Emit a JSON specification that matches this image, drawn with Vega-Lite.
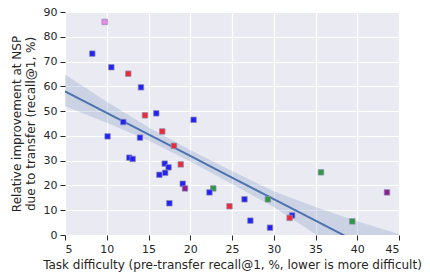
{
  "$schema": "https://vega.github.io/schema/vega-lite/v6.json",
  "width": 334,
  "height": 223,
  "autosize": {"type": "none"},
  "padding": {"left": 65, "top": 12, "right": 31, "bottom": 45},
  "background": "white",
  "config": {
    "view": {"fill": "#EAEAF2", "stroke": null},
    "font": "DejaVu Sans",
    "axis": {
      "domain": false,
      "grid": true,
      "gridColor": "white",
      "gridWidth": 1.2,
      "tickColor": "#262626",
      "tickSize": 5,
      "tickWidth": 1,
      "labelFont": "DejaVu Sans",
      "labelFontSize": 11,
      "labelColor": "#262626",
      "labelPadding": 3,
      "labelOverlap": false,
      "titleFont": "DejaVu Sans",
      "titleFontSize": 12,
      "titleFontWeight": "normal",
      "titleColor": "#262626"
    }
  },
  "datasets": {
    "points": [
      {"difficulty": 9.75, "improvement": 86, "group": "pink"},
      {"difficulty": 8.27, "improvement": 73.2, "group": "blue"},
      {"difficulty": 10.55, "improvement": 67.7, "group": "blue"},
      {"difficulty": 12.58, "improvement": 65.1, "group": "red"},
      {"difficulty": 14.1, "improvement": 59.6, "group": "blue"},
      {"difficulty": 14.58, "improvement": 48.3, "group": "red"},
      {"difficulty": 15.93, "improvement": 49.1, "group": "blue"},
      {"difficulty": 11.98, "improvement": 45.6, "group": "blue"},
      {"difficulty": 10.1, "improvement": 39.8, "group": "blue"},
      {"difficulty": 13.98, "improvement": 39.3, "group": "blue"},
      {"difficulty": 16.65, "improvement": 41.8, "group": "red"},
      {"difficulty": 18.05, "improvement": 36, "group": "red"},
      {"difficulty": 12.7, "improvement": 31.2, "group": "blue"},
      {"difficulty": 13.1, "improvement": 30.7, "group": "blue"},
      {"difficulty": 16.94, "improvement": 28.8, "group": "blue"},
      {"difficulty": 17.4, "improvement": 27.3, "group": "blue"},
      {"difficulty": 18.86, "improvement": 28.5, "group": "red"},
      {"difficulty": 16.3, "improvement": 24.3, "group": "blue"},
      {"difficulty": 17.0, "improvement": 25.1, "group": "blue"},
      {"difficulty": 19.1, "improvement": 20.7, "group": "blue"},
      {"difficulty": 19.37, "improvement": 18.8, "group": "purple"},
      {"difficulty": 17.5, "improvement": 12.8, "group": "blue"},
      {"difficulty": 20.4, "improvement": 46.5, "group": "blue"},
      {"difficulty": 22.76, "improvement": 18.8, "group": "green"},
      {"difficulty": 22.3, "improvement": 17.2, "group": "blue"},
      {"difficulty": 24.7, "improvement": 11.6, "group": "red"},
      {"difficulty": 26.5, "improvement": 14.4, "group": "blue"},
      {"difficulty": 29.3, "improvement": 14.4, "group": "green"},
      {"difficulty": 27.2, "improvement": 5.8, "group": "blue"},
      {"difficulty": 29.55, "improvement": 2.95, "group": "blue"},
      {"difficulty": 32.2, "improvement": 7.9, "group": "blue"},
      {"difficulty": 31.9, "improvement": 6.9, "group": "red"},
      {"difficulty": 35.66, "improvement": 25.3, "group": "green"},
      {"difficulty": 43.56, "improvement": 17.2, "group": "purple"},
      {"difficulty": 39.4, "improvement": 5.5, "group": "green"}
    ],
    "band": [
      {"difficulty": 5, "lo": 52, "hi": 64.8, "fit": 58.0},
      {"difficulty": 10, "lo": 45.3, "hi": 53.8, "fit": 49.3},
      {"difficulty": 15, "lo": 38.1, "hi": 43.5, "fit": 40.6},
      {"difficulty": 20, "lo": 29.7, "hi": 34.3, "fit": 31.9},
      {"difficulty": 25, "lo": 20.6, "hi": 25.8, "fit": 23.2},
      {"difficulty": 30, "lo": 11.3, "hi": 17.7, "fit": 14.5},
      {"difficulty": 35, "lo": 0.3, "hi": 11.3, "fit": 5.8},
      {"difficulty": 40, "lo": -11, "hi": 5.5, "fit": -2.9},
      {"difficulty": 45, "lo": -24, "hi": 0.3, "fit": -11.6}
    ]
  },
  "encoding": {
    "x": {
      "field": "difficulty",
      "type": "quantitative",
      "scale": {"domain": [5, 45], "nice": false, "zero": false},
      "axis": {"values": [5, 10, 15, 20, 25, 30, 35, 40, 45], "title": "Task difficulty (pre-transfer recall@1, %, lower is more difficult)", "titlePadding": 5}
    }
  },
  "layer": [
    {
      "data": {"name": "band"},
      "mark": {"type": "area", "color": "#4C72B0", "opacity": 0.2, "clip": true},
      "encoding": {
        "y": {
          "field": "lo",
          "type": "quantitative",
          "scale": {"domain": [0, 90], "nice": false},
          "axis": {"values": [0, 10, 20, 30, 40, 50, 60, 70, 80, 90], "title": ["Relative improvement at NSP", "due to transfer (recall@1, %)"], "titlePadding": 6}
        },
        "y2": {"field": "hi"}
      }
    },
    {
      "data": {"name": "band"},
      "mark": {"type": "line", "color": "#4C72B0", "strokeWidth": 2, "clip": true},
      "encoding": {
        "y": {
          "field": "fit",
          "type": "quantitative",
          "scale": {"domain": [0, 90], "nice": false},
          "axis": {"values": [0, 10, 20, 30, 40, 50, 60, 70, 80, 90], "title": ["Relative improvement at NSP", "due to transfer (recall@1, %)"], "titlePadding": 6}
        }
      }
    },
    {
      "data": {"name": "points"},
      "mark": {"type": "point", "shape": "square", "filled": true, "size": 30, "opacity": 1, "stroke": "#8a8ab0", "strokeWidth": 1, "strokeOpacity": 0.7},
      "encoding": {
        "y": {
          "field": "improvement",
          "type": "quantitative",
          "scale": {"domain": [0, 90], "nice": false},
          "axis": {"values": [0, 10, 20, 30, 40, 50, 60, 70, 80, 90], "title": ["Relative improvement at NSP", "due to transfer (recall@1, %)"], "titlePadding": 6}
        },
        "color": {
          "field": "group",
          "type": "nominal",
          "scale": {"domain": ["blue", "red", "green", "purple", "pink"], "range": ["#2222f5", "#f02a35", "#2e9a3e", "#8a208e", "#ea88ea"]},
          "legend": null
        }
      }
    }
  ]
}
